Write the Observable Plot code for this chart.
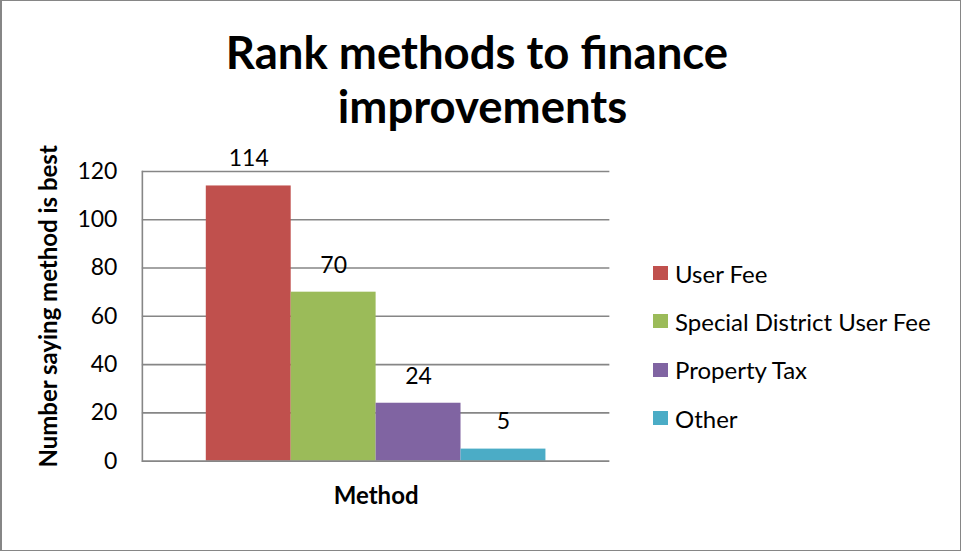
<!DOCTYPE html>
<html><head><meta charset="utf-8">
<script src="https://cdn.jsdelivr.net/npm/d3@7"></script>
<script src="https://cdn.jsdelivr.net/npm/@observablehq/plot@0.6"></script>
<style>
body{margin:0;background:#fff;font-family:Lato,"Open Sans",sans-serif;}
#box{position:relative;box-sizing:border-box;width:961px;height:551px;border:1px solid #868686;border-left-width:2px;overflow:hidden;background:#fff;}
#title{position:absolute;left:0;width:961px;top:24px;text-align:center;font-weight:bold;font-size:45.5px;line-height:54px;color:#000;}
#plot{position:absolute;left:-2px;top:149px;}
#legend{position:absolute;left:651px;top:248px;}
.row{display:flex;align-items:center;height:48.3px;font-size:24px;color:#000;}
.sw{width:15px;height:14px;margin-right:7px;}
</style></head>
<body>
<div id="box">
  <div id="title">Rank methods to finance&nbsp;<br>improvements</div>
  <div id="plot"></div>
  <div id="legend"></div>
</div>
<script>
const series = ["User Fee", "Special District User Fee", "Property Tax", "Other"];
const values = [114, 70, 24, 5];
const colors = ["#C0504D", "#9BBB59", "#8064A2", "#4BACC6"];
const yTicks = [0, 20, 40, 60, 80, 100, 120];
const yLabel = "Number saying method is best";
const xLabel = "Method";

const data = series.map((s, i) => ({series: s, value: values[i]}));

const chart = Plot.plot({
  width: 961, height: 400,
  marginTop: 21, marginBottom: 89, marginLeft: 142, marginRight: 351,
  x: {domain: series, paddingInner: 0, paddingOuter: 0.75, axis: null},
  y: {domain: [0, 120]},
  color: {domain: series, range: colors},
  style: {fontFamily: "Lato, 'Open Sans', sans-serif", fontSize: "23px", color: "#000", background: "transparent", overflow: "visible"},
  marks: [
    Plot.gridY(yTicks.filter(t => t > 0), {stroke: "#868686", strokeOpacity: 1, strokeWidth: 1.6}),
    Plot.barY(data, {x: "series", y: "value", fill: "series"}),
    Plot.ruleY([0], {stroke: "#868686", strokeWidth: 1.6}),
    Plot.frame({anchor: "left", stroke: "#868686", strokeWidth: 1.6}),
    Plot.text(data, {x: "series", y: "value", text: d => String(d.value), dy: -27, fontSize: 23, fill: "#000"}),
    Plot.axisY(yTicks, {tickSize: 0, tickPadding: 25, label: null, fontSize: 23, fill: "#000"}),
    Plot.text([yLabel], {frameAnchor: "left", textAnchor: "middle", rotate: -90, dx: -93, dy: -10, fontWeight: "bold", fontSize: 24, fill: "#000"}),
    Plot.text([xLabel], {frameAnchor: "bottom", dy: 43, fontWeight: "bold", fontSize: 24, fill: "#000"})
  ]
});
document.getElementById("plot").appendChild(chart);

const legend = document.getElementById("legend");
series.forEach((s, i) => {
  const row = document.createElement("div");
  row.className = "row";
  const sw = document.createElement("div");
  sw.className = "sw";
  sw.style.background = colors[i];
  const t = document.createElement("span");
  t.textContent = s;
  row.appendChild(sw); row.appendChild(t);
  legend.appendChild(row);
});
</script>
</body></html>
